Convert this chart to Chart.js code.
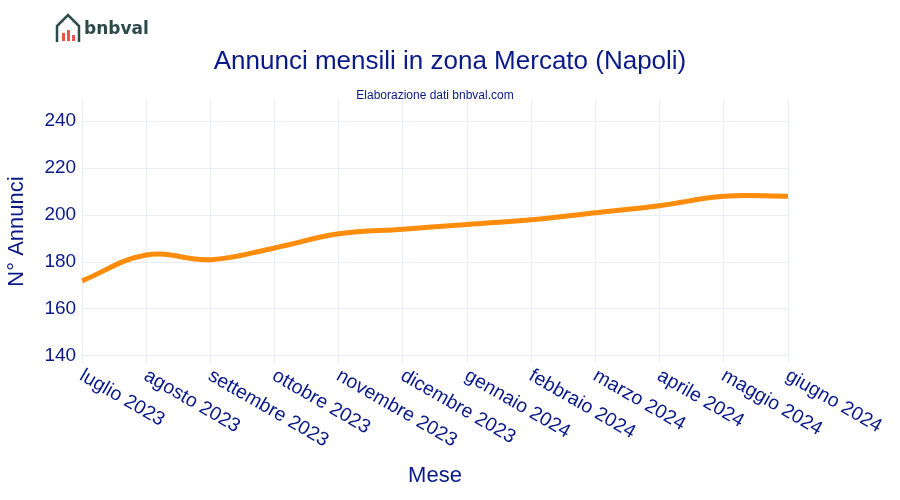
<!DOCTYPE html>
<html>
<head>
<meta charset="utf-8">
<script src="https://cdn.jsdelivr.net/npm/chart.js@4"></script>
<style>
  body { margin: 0; background: #fff; }
  #wrap { width: 900px; height: 500px; }
</style>
</head>
<body>
<div id="wrap"><canvas id="annunciChart" width="900" height="500"></canvas></div>
<script>
    // Data
    const mesi = ["luglio 2023", "agosto 2023", "settembre 2023", "ottobre 2023", "novembre 2023", "dicembre 2023",
        "gennaio 2024", "febbraio 2024", "marzo 2024", "aprile 2024", "maggio 2024", "giugno 2024"];
    const annunci = [172, 183, 181, 186, 192, 194, 196, 198, 201, 204, 208, 208];
    const yTicks = [140, 160, 180, 200, 220, 240];

    const navy = "#0a1a8a";

    // Draws titles, logo and the x labels slanting down to the right
    const decorPlugin = {
        id: "decor",
        afterDraw(chart) {
            const ctx = chart.ctx;
            const xs = chart.scales.x;
            ctx.save();
            // logo
            ctx.strokeStyle = "#2d4a4a";
            ctx.lineWidth = 2.5;
            ctx.beginPath();
            ctx.moveTo(57, 42); ctx.lineTo(57, 26); ctx.lineTo(68, 15); ctx.lineTo(79, 26); ctx.lineTo(79, 42);
            ctx.stroke();
            ctx.fillStyle = "#e8574a";
            ctx.fillRect(62, 33, 3, 8); ctx.fillRect(67, 30, 3, 11); ctx.fillRect(72, 35, 3, 6);
            ctx.fillStyle = "#2d4a4a";
            ctx.font = "bold 17px 'DejaVu Sans'";
            ctx.textBaseline = "middle";
            ctx.fillText("bnbval", 84, 30);
            // titles
            ctx.fillStyle = navy;
            ctx.textAlign = "center";
            ctx.font = "26px 'Liberation Sans'";
            ctx.fillText("Annunci mensili in zona Mercato (Napoli)", 450, 62);
            ctx.font = "12px 'Liberation Sans'";
            ctx.fillText("Elaborazione dati bnbval.com", 435, 96);
            ctx.font = "22px 'Liberation Sans'";
            ctx.fillText("Mese", 435, 476);
            // x labels
            ctx.font = "19.5px 'Liberation Sans'";
            ctx.textAlign = "left";
            ctx.textBaseline = "top";
            mesi.forEach((m, i) => {
                const x = xs.getPixelForTick(i);
                ctx.save();
                ctx.translate(x + 4, 366);
                ctx.rotate(Math.PI / 6);
                ctx.fillText(m, 0, 0);
                ctx.restore();
            });
            ctx.restore();
        }
    };

    const ctx = document.getElementById("annunciChart").getContext("2d");
    new Chart(ctx, {
        type: "line",
        data: {
            labels: mesi,
            datasets: [{
                data: annunci,
                borderColor: "#ff8c0a",
                backgroundColor: "#ff8c0a",
                borderWidth: 5,
                tension: 0.4,
                pointRadius: 0,
            }],
        },
        options: {
            responsive: false,
            animation: false,
            layout: { padding: { top: 100, bottom: 137, left: 0, right: 112 } },
            plugins: { legend: { display: false }, title: { display: false }, tooltip: { enabled: false } },
            scales: {
                x: {
                    offset: false,
                    ticks: { display: false },
                    grid: { color: "#ebedf5", drawTicks: false },
                    border: { display: false },
                },
                y: {
                    min: 137,
                    max: 249,
                    afterBuildTicks(scale) { scale.ticks = yTicks.map(v => ({ value: v })); },
                    title: { display: true, text: "N° Annunci", color: navy, font: { size: 22, family: "Liberation Sans" }, padding: { bottom: 8 } },
                    ticks: { color: navy, font: { size: 19, family: "Liberation Sans" }, padding: 6 },
                    grid: { color: "#ebedf5", drawTicks: false },
                    border: { display: false },
                },
            },
        },
        plugins: [decorPlugin],
    });
</script>
</body>
</html>
